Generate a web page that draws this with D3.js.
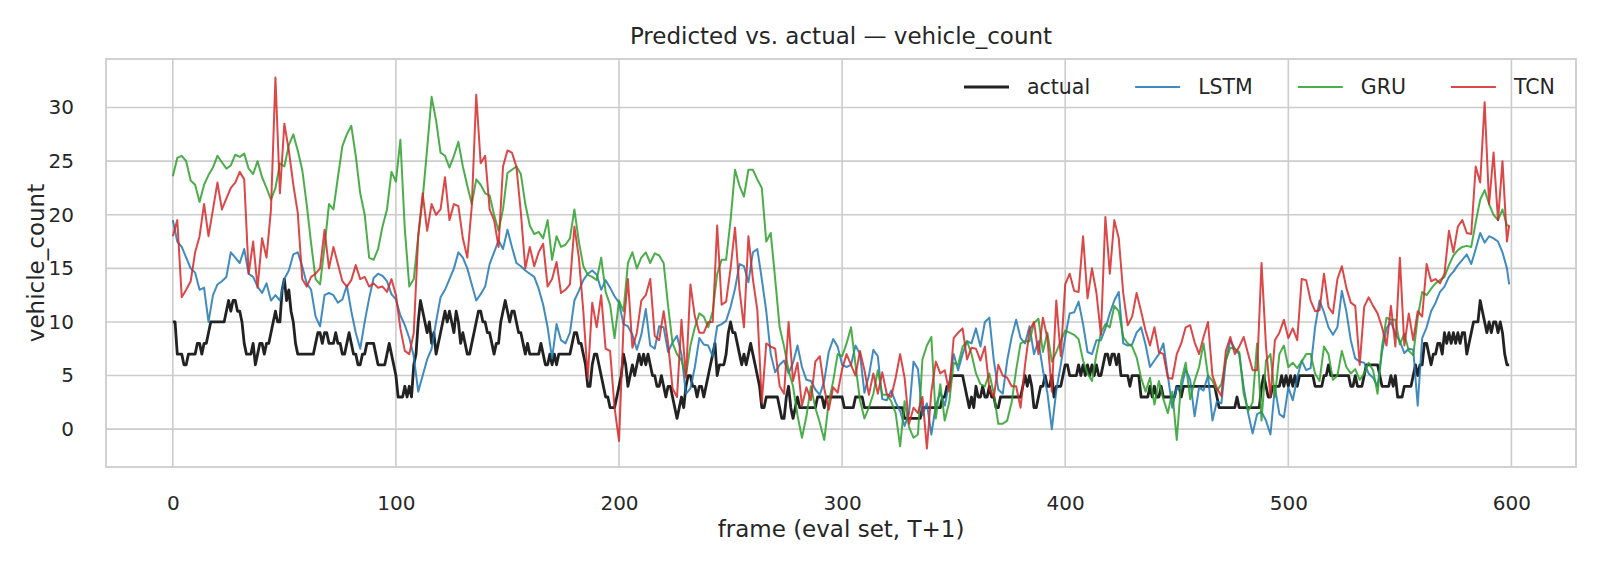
<!DOCTYPE html>
<html><head><meta charset="utf-8">
<script src="https://cdn.jsdelivr.net/npm/d3@7"></script>
<style>
body{margin:0;background:#fff}
svg{display:block}
text{font-family:"DejaVu Sans",sans-serif;fill:#262626}
</style>
</head><body>
<svg id="chart" width="1600" height="569"></svg>
<script>
// ---- data ----
const title = "Predicted vs. actual \u2014 vehicle_count";
const xLabel = "frame (eval set, T+1)";
const yLabel = "vehicle_count";
const seriesNames = ["actual", "LSTM", "GRU", "TCN"];
const xTicks = [0, 100, 200, 300, 400, 500, 600];
const yTicks = [0, 5, 10, 15, 20, 25, 30];

// actual count, one value per frame 0..599
const actual = [
10,10,7,7,7,6,6,7,7,7, 7,8,8,7,8,8,9,10,10,10,
10,10,10,10,11,12,11,12,12,11, 11,10,8,7,7,7,8,6,7,8,
8,7,8,8,9,10,11,10,10,13, 14,12,13,11,10,8,7,7,7,7,
7,7,7,7,8,9,9,8,9,9, 8,8,8,9,8,8,7,7,8,9,
8,7,7,6,6,7,7,8,8,8, 8,7,6,6,6,6,7,8,7,6,
5,3,3,3,4,3,4,3,6,7, 10,12,11,10,9,10,8,9,7,8,
9,10,11,10,11,10,9,11,10,8, 9,8,7,7,8,9,10,11,11,10,
10,9,9,8,7,8,8,10,11,12, 11,10,11,11,10,9,9,8,7,8,
7,7,7,7,7,8,7,6,6,7, 6,7,6,7,7,7,7,7,7,8,
9,9,8,8,7,6,4,4,6,7, 7,6,5,4,3,3,2,2,2,3,
4,5,7,6,4,5,6,5,6,7, 6,7,6,7,6,5,5,4,4,5,
4,3,4,4,3,2,1,2,3,2, 4,5,5,4,4,3,4,4,3,4,
5,6,7,8,5,6,6,6,7,9, 10,9,9,8,7,6,7,6,7,8,
7,6,5,4,2,2,3,3,3,3, 3,3,2,1,1,3,4,2,1,2,
3,2,2,2,2,2,2,2,2,3, 3,3,2,3,3,3,3,3,3,3,
3,2,2,2,2,2,3,3,3,3, 2,2,2,2,2,2,2,2,2,2,
2,2,2,2,2,2,2,2,1,1, 1,1,1,1,1,1,2,2,2,2,
2,2,2,2,2,3,3,4,4,5, 5,5,5,5,5,4,3,2,3,2,
4,3,3,4,3,3,4,3,3,2, 2,3,3,3,3,3,3,3,3,3,
3,4,5,4,5,4,2,2,3,4, 4,5,4,4,5,3,4,4,4,5,
6,6,5,5,5,5,6,5,6,5, 6,5,6,5,6,5,5,6,7,7,
6,7,7,6,7,5,5,5,5,4, 5,5,5,5,3,3,3,3,4,3,
4,3,3,4,3,3,3,3,3,3, 4,4,3,4,4,4,4,4,4,4,
4,4,4,4,4,4,4,4,3,2, 2,2,2,2,2,2,2,3,2,2,
2,2,2,2,2,2,2,2,4,5, 4,3,3,4,4,4,4,5,4,5,
4,5,4,5,4,5,5,5,5,5, 5,5,4,4,4,4,5,5,6,5,
5,5,5,5,5,5,5,5,4,4, 5,4,4,4,5,6,6,6,6,6,
6,5,4,4,4,4,5,4,5,3, 3,3,4,4,4,4,5,6,5,6,
6,8,8,7,6,7,7,8,8,7, 9,8,9,8,9,8,9,8,9,9,
7,8,9,10,10,10,12,11,10,9, 10,9,10,10,9,10,9,7,6,6
];

// model predictions, read at frames 0,2,4,...,598 and the last frame 599
const lstm = [
19.5,17.5,17,16,15,14.6,13,13.2,10,12.5,13.5,13.8,14.2,16.5,16,15.5,16.8,14.5,14.2,13.3,12.7,13.6,12,12.5,12,
14,14.8,16.3,16.5,15.2,13.6,13,10.5,9.6,12.5,12.7,12.5,11.8,12.1,13.4,11,9,7.5,10,12.2,14.1,14.5,14.3,13.8,
12.6,12.1,10.6,9.7,8.5,6.8,3.5,5,6.5,7.5,10,12.3,13,14,15,16.5,16,15,13.5,12,12.6,13.3,15.4,16.5,
17.6,16.8,18.6,17,15.5,15.2,14.8,14.5,14.2,13.1,11.6,9.5,6.6,9.8,8.3,8,9,12,12.9,13.9,14.5,14.8,14.4,13,
13.9,13.2,12.4,11.8,9.8,9.6,8.8,7.4,8.8,11.2,7.8,7.5,9.6,9.5,7.2,8.1,8.7,7,3.3,3.8,5.8,8.5,7.9,7.8,6.8,
9.6,9.8,10.1,11.4,13.1,15.4,15.2,13.7,16.5,16.8,14,11,7,5.3,6,6.4,5.2,6.2,7.8,5.8,4.6,4.5,3.7,3.2,
4.5,7.2,8.4,7.7,6,5.8,6,7.8,7,3.4,5,7.4,6.8,2.8,2.7,3.6,2.5,1.7,0.3,1.5,6.3,5.6,1.3,2.4,
-0.5,2.2,3.4,2.2,4.3,7,5.5,7,8.2,8,9.4,7.7,10,10.4,6.4,3.7,3.3,6.4,8.6,10.2,8.5,8,9.6,7,8.2,
5.5,3.4,0,3.6,6,8.6,10.8,10.9,11.9,9.8,7.2,7,8.3,8.3,9.4,10.8,12,12.8,8,7.8,7.9,9,9.5,7.9,
5.8,6.4,7,8,5,2,3.9,3.8,5.6,4.6,1.2,3.9,3.6,5,0.8,2.6,2.4,6.4,8.3,7.5,7,3.9,1.5,-0.4,1.4,
1.6,0.8,-0.5,3.9,1.4,1.1,3.9,2.7,4.8,6.4,5.5,5.7,9.5,12,10.9,9.5,8.8,9.5,12.9,11,8.3,6.6,6.3,6.2,
5.2,4.8,4,7.2,9.4,10,8.9,8.2,7.1,7.5,7.4,2.2,8.5,9.5,11,11.8,12.8,13.3,14.2,14.7,15.3,15.8,16.3,15.4,16.8,18.3,17.4,18,17.8,17.5,16.5,15,
13.5
];
const gru = [
23.6,25.3,25.5,25,23.2,22.8,21.2,22.8,23.7,24.4,25.5,24.9,24.3,24.6,25.6,25.4,25.7,24.3,23.8,25,23.5,22.5,21.4,22.5,24.8,
24.5,26.5,27.5,26,24.2,21,17.3,14,13.5,17,21,20.5,23.5,26.4,27.5,28.3,25.5,22,20,16,15.8,16.8,18.9,20.5,
24,23.1,27,18.6,13.3,14,18,21.5,26.2,31,28.8,25.8,25.5,24.4,25.5,26.8,24.5,22.7,21,23.3,22.8,22,21.8,20,
18.5,20.5,23.9,24.2,24.5,23.8,21,19,18.2,18.4,17.8,19.5,15.8,18,17,17.2,17.8,20.5,17.5,15.2,14.4,14.2,13.9,16,
12.8,11.6,8.5,12,11,15.5,16.5,15,16,16.5,15.5,16.4,16.2,15.5,11.5,8,7,6.4,5,7.8,9.5,10.8,10.5,9.5,11,
14.5,15.8,15.8,19.5,24.2,22.7,21.7,24.2,24.2,23.3,22.5,17.5,18.3,14,9.5,7.7,5.5,4,1.3,-0.8,1.2,4,2,0.6,
-1,2.5,4.5,7,6.8,8,9.5,6,2.7,1,2,3.3,5.5,3.2,3.2,2.6,1.5,-1.6,2.6,0.2,-0.8,-0.5,6.5,7.8,
8.6,1,4.2,0.8,2.5,6.2,6,7.7,8.2,7,5.2,4.2,4,5.2,3.3,0.5,0.5,0.8,2.5,5.5,8,8.2,8.2,9.9,10.3,
7.2,9,6.3,7.2,8.2,9.2,9,8.8,8.4,6.4,5.2,4.5,7,9,9.8,9.5,11.5,11,8.6,8,7.7,6.7,4.8,3.5,
4.8,2.3,4.5,2.8,1.5,3.5,-1,4.5,6.2,2.8,4.5,5.8,8,5,4.5,3.6,4.2,6.4,7.6,7.5,7.2,3.3,1.7,2.5,8,
0.8,6.4,7,3,7,7.8,5.8,6.2,5.7,6.3,7,7,5.2,4.5,7.7,7,4.6,5,7.3,5.8,5.2,5.6,4.6,5.2,
6.2,5.5,3.3,7.7,10.4,10.2,10.2,7.9,8.9,7.3,6.9,10.4,12.8,12.5,13.1,13.6,13.9,14.2,15.3,16.2,16.7,17,17.1,17,19.3,21.4,22.3,21,20,19.5,20.5,19,
19
];
const tcn = [
18,19.5,12.3,13,13.8,16.5,18,21,18,20.5,23,20.5,21.5,22.5,23,24,23.3,14.5,17.5,13.2,17.8,16,20.5,32.8,22,
28.5,26,22.8,20.2,14,13.3,14.2,14.5,15,18.6,15,17,15.4,13.8,13.3,13.9,15.3,14,14.2,13.3,13.6,13.2,13.3,12.8,
14,12.5,9.4,7.3,7,9,18,22,18.5,21,20,20.5,23.5,19.5,21,20.8,17.8,16,20.8,31.2,24.8,25.5,20.5,19.5,
17,24.5,26,25.8,24.5,20.2,15,17,15.2,16.5,17.3,13.3,14,15.6,12.7,13,13.5,18.9,16,11,4.8,11.8,9.5,12.5,
7.5,7.3,2,-1.1,9.6,14,7.6,9,12,12.5,14,8.7,8.3,11,8,3.8,3,10.2,4.8,13.5,10.5,9,9,10,10,
19,11.6,11.9,15,18.8,13,9.5,18,14,11.1,2.5,8,7.7,7.5,4,3.3,10,4.5,6.2,2.2,3.9,2.7,6.3,6.8,
3.8,1.8,3.9,3.4,5.6,7,6,5,7.3,5.5,3.2,5.2,3.3,5.3,3.3,3,4.8,7,4.8,0.5,2,1.5,3,-1.8,
3.5,6.3,5.2,5.5,3.5,8.5,9,9.4,6.5,7.6,7.5,6.4,7.7,3.8,3,6,5,4.8,4,4,2,6,9.2,10,7,
10.4,8.5,3.5,12,6.8,13.5,14.5,12.9,12.8,18,12.2,15,12.7,8.8,19.8,14.5,19.5,17.8,12.7,9.7,10.5,12.7,11,9.2,
7.8,9.5,7.2,7,4.8,4.7,7,8,9.5,9.7,8.1,7,8.6,10,5,3.8,3.1,7.3,8.6,7,7.7,8.6,7,5.5,5.5,
15.5,7.7,3,8.3,9,10.2,8.5,9.4,8.3,14,13.9,12,11,11.1,14.5,11.4,10.8,14,15.2,13.2,11.8,11.5,6,11.4,
12.3,11.5,10.8,9.5,7.8,11.5,7.7,16,7.8,10.8,8.3,11,10.5,15.4,13.8,14,13.6,14.5,18.5,16.5,18.9,19.5,18.3,18.2,24.5,23,30.5,21,25.8,19.5,25,17.5,
19
];

// ---- chart ----
const W = 1600, H = 569;
const M = {left: 106, right: 1576, top: 59, bottom: 467};
const svg = d3.select("#chart");
svg.append("rect").attr("width", W).attr("height", H).attr("fill", "#fff");

const actualFrames = d3.range(actual.length);
const predFrames = d3.range(0, 600, 2).concat([599]);

const colors = {actual: "#222222", LSTM: "#1f77b4", GRU: "#2ca02c", TCN: "#d62728"};
const widths = {actual: 2.8, LSTM: 2.0, GRU: 2.0, TCN: 2.0};
const opac = {actual: 1, LSTM: 0.85, GRU: 0.85, TCN: 0.85};

function pts(frames, vals) {
  const n = Math.min(frames.length, vals.length);
  return d3.range(n).map(i => [frames[i], vals[i]]);
}
const series = [
  {name: "actual", data: pts(actualFrames, actual)},
  {name: "LSTM", data: pts(predFrames, lstm)},
  {name: "GRU", data: pts(predFrames, gru)},
  {name: "TCN", data: pts(predFrames, tcn)}
];

const xMin = 0, xMax = 599, xPad = (xMax - xMin) * 0.05;
const x = d3.scaleLinear().domain([xMin - xPad, xMax + xPad]).range([M.left, M.right]);
const allV = series.flatMap(s => s.data.map(d => d[1]));
const vMin = d3.min(allV), vMax = d3.max(allV), vPad = (vMax - vMin) * 0.05;
const y = d3.scaleLinear().domain([vMin - vPad, vMax + vPad]).range([M.bottom, M.top]);

// grid
const grid = svg.append("g");
grid.selectAll(".gx").data(xTicks).join("line")
  .attr("x1", d => x(d)).attr("x2", d => x(d))
  .attr("y1", M.top).attr("y2", M.bottom)
  .attr("stroke", "#cccccc").attr("stroke-width", 1.6);
grid.selectAll(".gy").data(yTicks).join("line")
  .attr("x1", M.left).attr("x2", M.right)
  .attr("y1", d => y(d)).attr("y2", d => y(d))
  .attr("stroke", "#cccccc").attr("stroke-width", 1.6);

// axes
const xAxis = svg.append("g").attr("transform", `translate(0,${M.bottom})`)
  .call(d3.axisBottom(x).tickValues(xTicks).tickSize(0).tickPadding(29).tickFormat(d3.format("d")));
const yAxis = svg.append("g").attr("transform", `translate(${M.left},0)`)
  .call(d3.axisLeft(y).tickValues(yTicks).tickSize(0).tickPadding(32).tickFormat(d3.format("d")));
[xAxis, yAxis].forEach(a => {
  a.select(".domain").remove();
  a.selectAll("text").attr("font-size", 20).attr("fill", "#262626")
    .attr("font-family", "DejaVu Sans, sans-serif");
});

// spines
svg.append("rect").attr("x", M.left).attr("y", M.top)
  .attr("width", M.right - M.left).attr("height", M.bottom - M.top)
  .attr("fill", "none").attr("stroke", "#cccccc").attr("stroke-width", 1.8);

// lines
const line = d3.line().x(d => x(d[0])).y(d => y(d[1]));
const clipId = "plotclip";
svg.append("clipPath").attr("id", clipId).append("rect")
  .attr("x", M.left).attr("y", M.top).attr("width", M.right - M.left).attr("height", M.bottom - M.top);
const lines = svg.append("g").attr("clip-path", `url(#${clipId})`);
series.forEach(s => {
  lines.append("path").datum(s.data)
    .attr("d", line)
    .attr("fill", "none")
    .attr("stroke", colors[s.name])
    .attr("stroke-opacity", opac[s.name])
    .attr("stroke-width", widths[s.name])
    .attr("stroke-linejoin", "round")
    .attr("stroke-linecap", "butt");
});

// title and axis labels
svg.append("text").attr("x", (M.left + M.right) / 2).attr("y", 36).attr("dy", "0.35em")
  .attr("text-anchor", "middle").attr("font-size", 23).text(title);
svg.append("text").attr("x", (M.left + M.right) / 2).attr("y", 529).attr("dy", "0.35em")
  .attr("text-anchor", "middle").attr("font-size", 23).text(xLabel);
svg.append("text").attr("transform", `translate(36,${(M.top + M.bottom) / 2}) rotate(-90)`)
  .attr("dy", "0.35em").attr("text-anchor", "middle").attr("font-size", 23).text(yLabel);

// legend
const lg = svg.append("g");
let lx = 964;
const ly = 87;
seriesNames.forEach(n => {
  lg.append("line").attr("x1", lx).attr("x2", lx + 45).attr("y1", ly).attr("y2", ly)
    .attr("stroke", colors[n]).attr("stroke-opacity", opac[n]).attr("stroke-width", widths[n]);
  const t = lg.append("text").attr("x", lx + 63).attr("y", ly).attr("dy", "0.35em")
    .attr("font-size", 20.5).text(n);
  lx = lx + 63 + t.node().getComputedTextLength() + 45;
});
</script>
</body></html>
